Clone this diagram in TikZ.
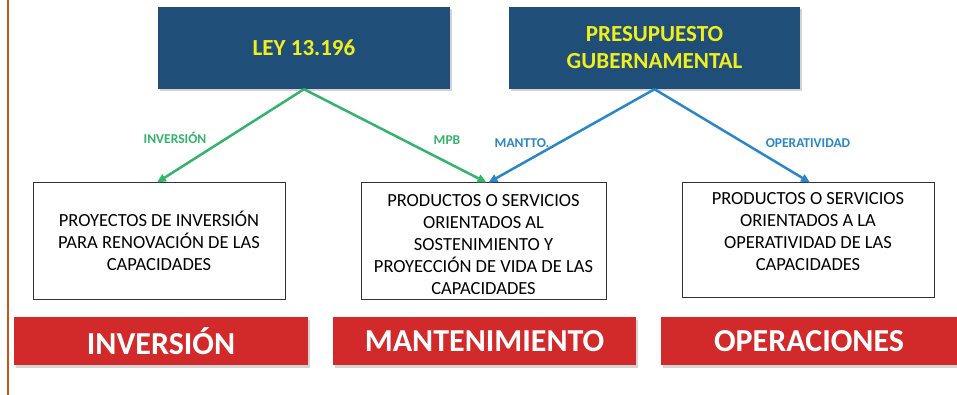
\documentclass[tikz,border=0pt]{standalone}
\usepackage{fontspec}
\setmainfont{Carlito}
\usetikzlibrary{shadows,arrows.meta}
\definecolor{azulfuente}{HTML}{1F4E79}
\definecolor{amarillo}{HTML}{F2EE1E}
\definecolor{rojofranja}{HTML}{D22A2A}
\definecolor{verdeley}{HTML}{33B36B}
\definecolor{azulpres}{HTML}{2A86C8}
\definecolor{naranja}{HTML}{C8551A}
% texto de caja alineado arriba, con un margen superior
\newcommand{\textoarriba}[2]{\parbox[c][110pt][t]{240pt}{\vspace*{#1}\centering #2}}
\tikzset{
  fuente/.style={rectangle, fill=azulfuente, text=amarillo, font=\fontsize{23}{27}\selectfont\bfseries,
    minimum width=292pt, minimum height=82pt, align=center,
    drop shadow={shadow xshift=2pt, shadow yshift=-2pt, opacity=0.35}},
  caja/.style={rectangle, draw=black!80, line width=1pt, fill=white, font=\fontsize{18.5}{22}\selectfont,
    minimum height=116pt, align=center, inner sep=0pt},
  franja/.style={rectangle, fill=rojofranja, text=white, font=\fontsize{32}{36}\selectfont\bfseries,
    minimum height=48pt, inner sep=0pt,
    drop shadow={shadow xshift=2pt, shadow yshift=-3pt, opacity=0.35}},
  etiqueta/.style={font=\fontsize{13.5}{15}\selectfont\bfseries, inner sep=0pt},
  flecha/.style={-{Triangle[length=9pt,width=8pt]}, line width=2.5pt}
}
\begin{document}
\begin{tikzpicture}[x=1pt, y=-1pt]
		\useasboundingbox (0, 0) rectangle (957, 395);
		\draw [naranja, line width=2.5pt] (8, 0) -- (8, 395);
		\path (304, 48) node(ley) [fuente] {LEY 13.196};
		\path (654.5, 48) node(pres) [fuente, minimum width=291pt] {PRESUPUESTO\\GUBERNAMENTAL};
		\path (159, 241) node(inv) [caja, minimum width=252pt] {PROYECTOS DE INVERSIÓN\\PARA RENOVACIÓN DE LAS\\CAPACIDADES};
		\path (483.5, 241) node(man) [caja, minimum width=245pt] {\textoarriba{8pt}{PRODUCTOS O SERVICIOS\\ORIENTADOS AL\\SOSTENIMIENTO Y\\PROYECCIÓN DE VIDA DE LAS\\CAPACIDADES}};
		\path (808, 240) node(ope) [caja, minimum width=252pt, minimum height=114pt] {\textoarriba{7pt}{PRODUCTOS O SERVICIOS\\ORIENTADOS A LA\\OPERATIVIDAD DE LAS\\CAPACIDADES}};
		\path (161, 341) node(finv) [franja, minimum width=294pt] {INVERSIÓN};
		\path (484.5, 341) node(fman) [franja, minimum width=303pt] {MANTENIMIENTO};
		\path (809, 341) node(fope) [franja, minimum width=296pt] {OPERACIONES};
		\draw [flecha, verdeley] (ley.south) to ([xshift=-2pt]inv.north);
		\draw [flecha, verdeley] (ley.south) to ([xshift=3pt]man.north);
		\draw [flecha, azulpres] (pres.south) to ([xshift=5pt]man.north);
		\draw [flecha, azulpres] (pres.south) to ([xshift=2pt]ope.north);
		\path (175, 138) node(linv) [etiqueta, text=verdeley] {INVERSIÓN};
		\path (447, 140) node(lmpb) [etiqueta, text=verdeley] {MPB};
		\path (522, 143) node(lman) [etiqueta, text=azulpres] {MANTTO.};
		\path (808, 143) node(lope) [etiqueta, text=azulpres] {OPERATIVIDAD};
	\end{tikzpicture}
\end{document}
